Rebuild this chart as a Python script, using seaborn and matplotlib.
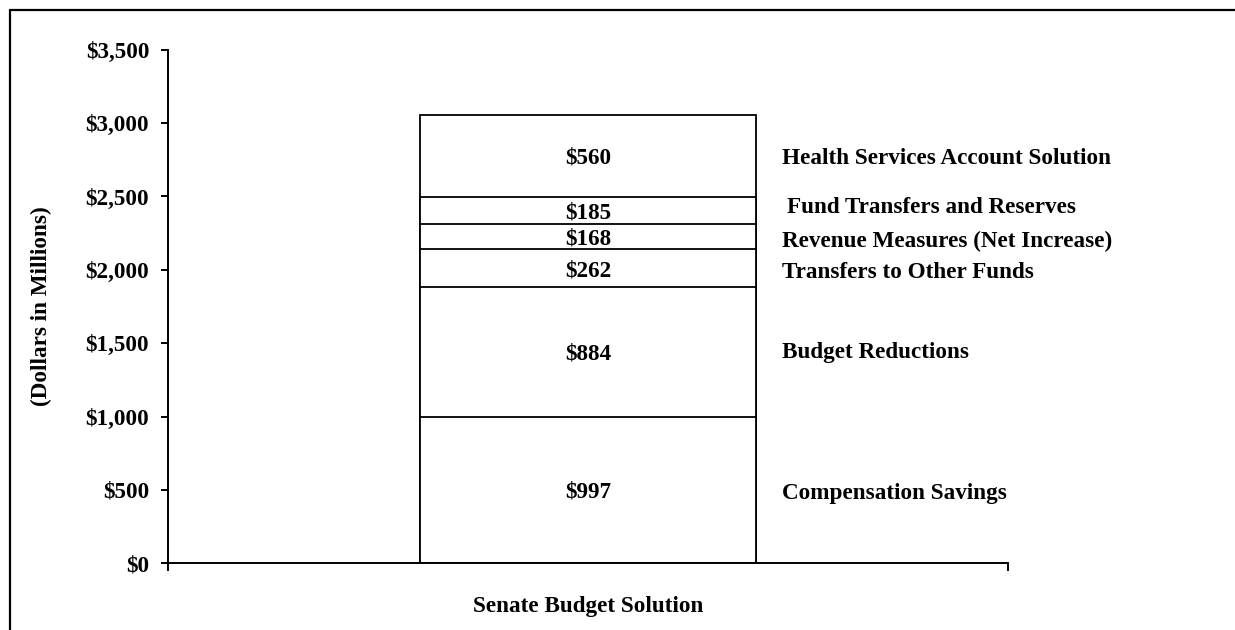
import numpy as np
import pandas as pd
import seaborn as sns
import matplotlib.pyplot as plt
from matplotlib.lines import Line2D

# values (dollars in millions), bottom to top
segments = ["Compensation Savings", "Budget Reductions", "Transfers to Other Funds",
            "Revenue Measures (Net Increase)", "Fund Transfers and Reserves",
            "Health Services Account Solution"]
amounts = [997, 884, 262, 168, 185, 560]
category = "Senate Budget Solution"
yticks = [0, 500, 1000, 1500, 2000, 2500, 3000, 3500]

sns.set_style("white")
plt.rcParams["font.family"] = ["Liberation Serif", "DejaVu Serif"]
plt.rcParams["font.weight"] = "bold"
plt.rcParams["text.color"] = "black"
plt.rcParams["axes.labelcolor"] = "black"

FS = 16.7

tops = np.cumsum(amounts)
bottoms = tops - np.array(amounts)
df = pd.DataFrame({"cat": [category] * len(amounts), "top": tops})

fig = plt.figure(figsize=(12.35, 6.3), dpi=100)
ax = fig.add_axes([0.136, 0.106, 0.680, 0.815])

# draw cumulative layers largest first so smaller ones sit on top
for t in tops[::-1]:
    sns.barplot(data=df[df["top"] == t], x="cat", y="top", color="white",
                edgecolor="black", linewidth=1.3, width=0.4, ax=ax, saturation=1)

ax.set_xlim(-0.5, 0.5)
ax.set_ylim(0, 3500)
ax.set_yticks(yticks)
ax.set_yticklabels([f"${v:,}" for v in yticks], fontsize=FS, fontweight="bold")
ax.set_xticks([-0.5, 0.5])
ax.set_xticklabels(["", ""])
ax.tick_params(axis="both", direction="out", length=5, width=1.4, colors="black",
               bottom=True, left=True, labelcolor="black")
ax.tick_params(axis="y", pad=8.5)
ax.tick_params(axis="x", length=6)
for s in ["top", "right"]:
    ax.spines[s].set_visible(False)
for s in ["left", "bottom"]:
    ax.spines[s].set_linewidth(1.4)
    ax.spines[s].set_color("black")

ax.set_xlabel(category, fontsize=FS, fontweight="bold", labelpad=14)
ax.set_ylabel("(Dollars in Millions)", fontsize=FS, fontweight="bold", labelpad=24)

# value labels inside segments and names to the right
value_offsets = [-15, -15, -20, -15, -15, -15]
name_offsets = [-20, -5, -27, -34, 20, -14]
name_x = [0.231, 0.231, 0.231, 0.231, 0.237, 0.231]
for b, a, name, voff, noff, nx in zip(bottoms, amounts, segments, value_offsets,
                                      name_offsets, name_x):
    mid = b + a / 2
    ax.text(0, mid + voff, f"${a}", ha="center", va="center", fontsize=FS,
            fontweight="bold")
    ax.text(nx, mid + noff, name, ha="left", va="center", fontsize=FS,
            fontweight="bold")

# page frame (top and left edges)
fig.add_artist(Line2D([0.008, 1.0], [0.984, 0.984], color="black", lw=1.6,
                      transform=fig.transFigure))
fig.add_artist(Line2D([0.008, 0.008], [0.0, 0.984], color="black", lw=1.6,
                      transform=fig.transFigure))

fig.savefig("out.png", dpi=100)
